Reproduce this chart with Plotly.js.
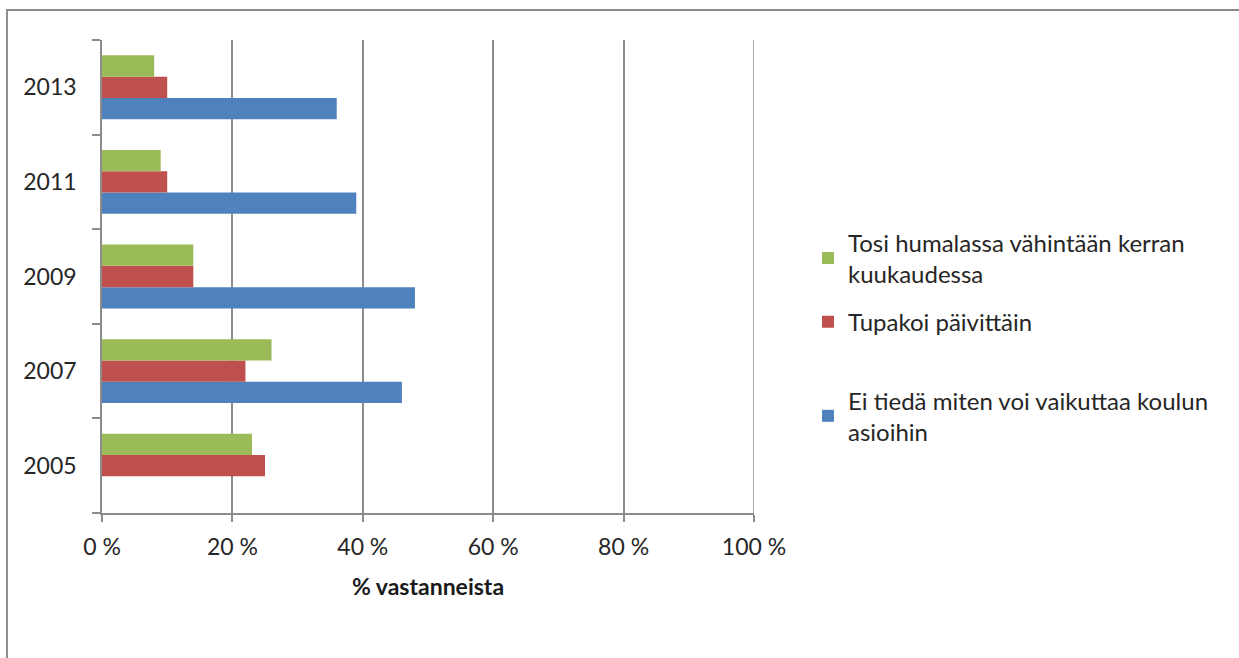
<!DOCTYPE html>
<html>
<head>
<meta charset="utf-8">
<script src="https://cdn.plot.ly/plotly-3.0.1.min.js"></script>
<style>
html,body{margin:0;padding:0;background:#fff;overflow:hidden;}
#wrap{position:relative;width:1239px;height:658px;}
#chart{position:absolute;left:0;top:0;width:1239px;height:658px;}
#frame{position:absolute;left:6px;top:9px;width:1300px;height:700px;border-left:2px solid #8f8f8f;border-top:2px solid #8a8a8a;pointer-events:none;}
</style>
</head>
<body>
<div id="wrap"><div id="chart"></div><div id="frame"></div></div>
<script>
const years = ["2005", "2007", "2009", "2011", "2013"];
const seriesNames = [
  "Ei tiedä miten voi vaikuttaa koulun<br>asioihin",
  "Tupakoi päivittäin",
  "Tosi humalassa vähintään kerran<br>kuukaudessa"
];
const eiTieda = [null, 46, 48, 39, 36];
const tupakoi = [25, 22, 14, 10, 10];
const humalassa = [23, 26, 14, 9, 8];
const xTicks = [0, 20, 40, 60, 80, 100];
const xTickText = ["0 %", "20 %", "40 %", "60 %", "80 %", "100 %"];
const axisTitle = "% vastanneista";

const colors = ["#4F81BD", "#C0504D", "#9BBB59"];
const values = [eiTieda, tupakoi, humalassa];
const legendIds = ["legend3", "legend2", "legend"];

const traces = values.map((v, i) => ({
  type: "bar",
  orientation: "h",
  y: years,
  x: v,
  name: seriesNames[i],
  marker: {color: colors[i]},
  legend: legendIds[i],
  hoverinfo: "x+name"
}));

const family = "Lato, 'Open Sans', sans-serif";
const font = {family: family, size: 23, color: "#262626"};
const legFont = {family: family, size: 24, color: "#262626"};
const L = 102, R = 754, T = 39.5, B = 513;
const px = x => (x - L) / (R - L);
const py = y => (B - y) / (B - T);

const legendBase = {
  xanchor: "left", yanchor: "middle",
  bgcolor: "rgba(0,0,0,0)", borderwidth: 0,
  font: legFont, itemclick: false, itemdoubleclick: false
};

const gridColor = "#8c8c8c";

const layout = {
  width: 1239, height: 658,
  margin: {l: L, r: 1239 - R, t: T, b: 658 - B, pad: 0},
  paper_bgcolor: "#fff", plot_bgcolor: "#fff",
  font: font,
  barmode: "group",
  bargap: 0.325, bargroupgap: 0,
  showlegend: true,
  legend: Object.assign({}, legendBase, {x: px(808), y: py(258)}),
  legend2: Object.assign({}, legendBase, {x: px(808), y: py(322)}),
  legend3: Object.assign({}, legendBase, {x: px(808), y: py(416)}),
  shapes: [{
    type: "line", xref: "x", yref: "paper",
    x0: xTicks[xTicks.length - 1], x1: xTicks[xTicks.length - 1], y0: 0, y1: 1,
    line: {color: gridColor, width: 1.5}, layer: "below"
  }],
  xaxis: {
    range: [0, 100], tickvals: xTicks, ticktext: xTickText,
    showgrid: true, gridcolor: gridColor, gridwidth: 1.5,
    zeroline: false, showline: true, linecolor: gridColor, linewidth: 1.5,
    ticks: "outside", ticklen: 7, tickcolor: gridColor, tickwidth: 1.5,
    tickfont: font, fixedrange: true, ticklabelstandoff: 6,
    title: {text: "<b>" + axisTitle + "</b>", font: {family: family, size: 23, color: "#1a1a1a"}, standoff: 20}
  },
  yaxis: {
    type: "category", categoryorder: "array", categoryarray: years,
    tickson: "boundaries", ticks: "outside", ticklen: 8, tickcolor: gridColor, tickwidth: 1.5,
    showline: true, linecolor: gridColor, linewidth: 1.5,
    showgrid: false, zeroline: false, tickfont: font, fixedrange: true,
    ticklabelstandoff: 19
  }
};

Plotly.newPlot("chart", traces, layout, {displayModeBar: false});
</script>
</body>
</html>
